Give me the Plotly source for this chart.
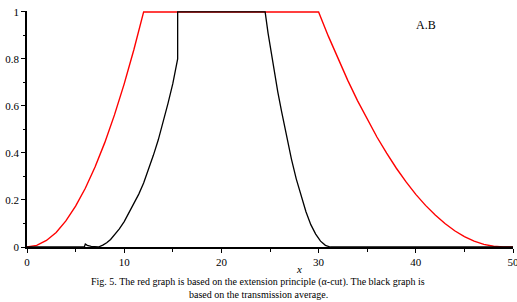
import plotly.graph_objects as go

# Red graph: extension principle (alpha-cut)
red_x = [0, 1, 2, 3, 4, 5, 6, 7, 8, 9, 10, 11, 12,
         30, 31, 32, 33, 34, 35, 36, 37, 38, 39, 40, 41, 42, 43, 44, 45, 46, 47, 48, 49, 50]
red_y = [0, 0.007, 0.028, 0.062, 0.111, 0.174, 0.25, 0.34, 0.444, 0.562, 0.694, 0.84, 1,
         1, 0.897, 0.80, 0.709, 0.623, 0.543, 0.468, 0.399, 0.335, 0.277, 0.224, 0.177,
         0.136, 0.10, 0.069, 0.044, 0.025, 0.011, 0.003, 0, 0]

# Black graph: transmission average
black_x = [0, 5.9, 6.0, 6.2, 6.6, 7.0, 7.35, 7.8, 8.2, 8.6, 9.0, 9.5, 10.0, 10.5, 11.0,
           11.5, 12.0, 12.5, 13.0, 13.5, 14.0, 14.5, 15.0, 15.5, 15.5,
           24.5, 24.8, 25.1, 25.4, 25.8, 26.2, 26.7, 27.2, 27.7, 28.2, 28.7, 29.2,
           29.7, 30.2, 30.7, 31.2, 50]
black_y = [0, 0, 0.013, 0.007, 0.003, 0.001, 0, 0.008, 0.018, 0.032, 0.05, 0.077, 0.108,
           0.145, 0.185, 0.225, 0.272, 0.328, 0.39, 0.455, 0.53, 0.61, 0.695, 0.8, 1,
           1, 0.91, 0.83, 0.75, 0.66, 0.575, 0.47, 0.375, 0.29, 0.215, 0.15, 0.095,
           0.055, 0.025, 0.007, 0, 0]

x_ticks = [0, 10, 20, 30, 40, 50]
y_ticks = [0, 0.2, 0.4, 0.6, 0.8, 1]
y_tick_text = ["0", "0.2", "0.4", "0.6", "0.8", "1"]

serif = "Liberation Serif, Times New Roman, serif"

L, R, T, B = 26.5, 513.0, 11.0, 247.5
W, H = 517, 302

fig = go.Figure()
fig.add_trace(go.Scatter(x=red_x, y=red_y, mode="lines",
                         line=dict(color="#ff0000", width=1.4), showlegend=False))
fig.add_trace(go.Scatter(x=black_x, y=black_y, mode="lines",
                         line=dict(color="#000000", width=1.3), showlegend=False))

fig.update_layout(
    width=W, height=H,
    margin=dict(l=L, r=W - R, t=T, b=H - B, autoexpand=False),
    paper_bgcolor="white", plot_bgcolor="white",
    font=dict(family=serif, size=11, color="black"),
    xaxis=dict(range=[0, 50], tickvals=x_ticks, showgrid=False, zeroline=False,
               automargin=False, ticklabeloverflow="allow",
               showline=True, linecolor="black", linewidth=1.5,
               ticks="outside", ticklen=4, tickcolor="black",
               minor=dict(tickvals=[5, 15, 25, 35, 45], ticks="outside", ticklen=3,
                          tickcolor="black"),
               tickfont=dict(family=serif, size=11)),
    yaxis=dict(range=[0, 1.004], tickvals=y_ticks, ticktext=y_tick_text, showgrid=False,
               automargin=False, ticklabeloverflow="allow",
               zeroline=False, showline=True, linecolor="black", linewidth=1.5,
               ticks="outside", ticklen=4, tickcolor="black",
               minor=dict(tickvals=[0.1, 0.3, 0.5, 0.7, 0.9], ticks="outside", ticklen=2,
                          tickcolor="black"),
               tickfont=dict(family=serif, size=11)),
)

fig.add_annotation(x=41, y=0.945, xref="x", yref="y", text="A.B", showarrow=False,
                   font=dict(family=serif, size=12))


def px_to_paper(px, py):
    return (px - L) / (R - L), (B - py) / (B - T)


for text, px, py, size in [
    ("<i>x</i>", 299, 270, 11),
    ("Fig. 5. The red graph is based on the extension principle (α-cut). The black graph is", 258, 283, 10),
    ("based on the transmission average.", 258, 295, 10),
]:
    ax, ay = px_to_paper(px, py)
    fig.add_annotation(x=ax, y=ay, xref="paper", yref="paper", text=text,
                       showarrow=False, font=dict(family=serif, size=size),
                       yanchor="middle", xanchor="center")

fig.write_html("out.html", config={"displayModeBar": False},
               post_script="document.body.style.margin='0';document.body.style.overflow='hidden';")
